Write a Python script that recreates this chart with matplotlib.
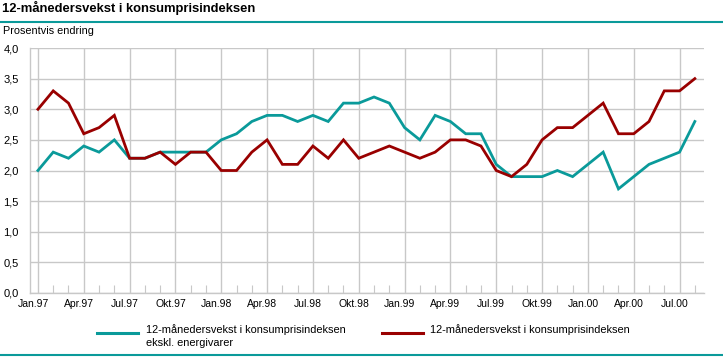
import numpy as np
import matplotlib
matplotlib.use("Agg")
import matplotlib.pyplot as plt
import matplotlib.transforms as mtransforms
from matplotlib.lines import Line2D

# ----------------------------------------
# Data: 12-month growth in CPI, Jan.97 - Aug.00
# ----------------------------------------
months = ["Jan.97", "Feb.97", "Mar.97", "Apr.97", "Mai.97", "Jun.97", "Jul.97", "Aug.97", "Sep.97", "Okt.97", "Nov.97", "Des.97",
          "Jan.98", "Feb.98", "Mar.98", "Apr.98", "Mai.98", "Jun.98", "Jul.98", "Aug.98", "Sep.98", "Okt.98", "Nov.98", "Des.98",
          "Jan.99", "Feb.99", "Mar.99", "Apr.99", "Mai.99", "Jun.99", "Jul.99", "Aug.99", "Sep.99", "Okt.99", "Nov.99", "Des.99",
          "Jan.00", "Feb.00", "Mar.00", "Apr.00", "Mai.00", "Jun.00", "Jul.00", "Aug.00"]

kpi_ex_energy = [2.0, 2.3, 2.2, 2.4, 2.3, 2.5, 2.2, 2.2, 2.3, 2.3, 2.3, 2.3,
                 2.5, 2.6, 2.8, 2.9, 2.9, 2.8, 2.9, 2.8, 3.1, 3.1, 3.2, 3.1,
                 2.7, 2.5, 2.9, 2.8, 2.6, 2.6, 2.1, 1.9, 1.9, 1.9, 2.0, 1.9,
                 2.1, 2.3, 1.7, 1.9, 2.1, 2.2, 2.3, 2.8]

kpi_total = [3.0, 3.3, 3.1, 2.6, 2.7, 2.9, 2.2, 2.2, 2.3, 2.1, 2.3, 2.3,
             2.0, 2.0, 2.3, 2.5, 2.1, 2.1, 2.4, 2.2, 2.5, 2.2, 2.3, 2.4,
             2.3, 2.2, 2.3, 2.5, 2.5, 2.4, 2.0, 1.9, 2.1, 2.5, 2.7, 2.7,
             2.9, 3.1, 2.6, 2.6, 2.8, 3.3, 3.3, 3.5]

y_ticks = [0.0, 0.5, 1.0, 1.5, 2.0, 2.5, 3.0, 3.5, 4.0]

label_ex = "12-månedersvekst i konsumprisindeksen\nekskl. energivarer"
label_tot = "12-månedersvekst i konsumprisindeksen"

# ----------------------------------------
# Styling
# ----------------------------------------
teal = "#0a9a9a"
red = "#990000"
grid_col = "#c8c8c8"
plt.rcParams['font.family'] = ['Liberation Sans', 'DejaVu Sans']

W, H = 723, 357
fig = plt.figure(figsize=(W / 100, H / 100), dpi=100)

def px_box(left, top, right, bottom):
    return [left / W, 1 - bottom / H, (right - left) / W, (bottom - top) / H]

ax = fig.add_axes(px_box(30, 48, 704, 293))

x = np.arange(len(months))
ax.plot(x, kpi_ex_energy, color=teal, linewidth=2.0, solid_joinstyle='miter')
ax.plot(x, kpi_total, color=red, linewidth=2.0, solid_joinstyle='miter')

ax.set_xlim(-0.52, 43.6)
ax.set_ylim(0, 4.0)

# quarterly gridlines + labels, monthly minor ticks
quarter_idx = x[::3]
ax.set_xticks(quarter_idx)
ax.set_xticklabels([months[i] for i in quarter_idx])
ax.set_xticks(x, minor=True)
ax.tick_params(axis='x', which='major', length=0, pad=4, labelsize=7.5, colors='black')
ax.tick_params(axis='x', which='minor', direction='in', length=6, width=0.8, color=grid_col)
offset = mtransforms.ScaledTranslation(-5 / 100, 0, fig.dpi_scale_trans)
for lbl in ax.get_xticklabels():
    lbl.set_transform(lbl.get_transform() + offset)

ax.set_yticks(y_ticks)
ax.set_yticklabels([f"{v:.1f}".replace(".", ",") for v in y_ticks])
ax.tick_params(axis='y', length=0, pad=8, labelsize=8)

ax.grid(True, which='major', color=grid_col, linewidth=1.0)
ax.set_axisbelow(True)

for side in ['top', 'right']:
    ax.spines[side].set_visible(False)
for side in ['left', 'bottom']:
    ax.spines[side].set_color(grid_col)
    ax.spines[side].set_linewidth(1.0)

# ----------------------------------------
# Title, subtitle, rules
# ----------------------------------------
fig.text(2 / W, 1 - 8 / H, "12-månedersvekst i konsumprisindeksen", fontsize=9.4,
         fontweight='bold', va='center', ha='left')
fig.add_artist(Line2D([0, 1], [1 - 21.5 / H, 1 - 21.5 / H], color=teal, linewidth=1.5))
fig.text(3 / W, 1 - 31 / H, "Prosentvis endring", fontsize=7.8, va='center', ha='left')
fig.add_artist(Line2D([0, 1], [1 - 354.5 / H, 1 - 354.5 / H], color=teal, linewidth=1.5))

# ----------------------------------------
# Legend (manual placement)
# ----------------------------------------
ly = 1 - 333 / H
fig.add_artist(Line2D([97 / W, 138 / W], [ly, ly], color=teal, linewidth=2.2))
fig.text(146 / W, 1 - 324 / H, label_ex, fontsize=7.9, va='top', ha='left', linespacing=1.45)
fig.add_artist(Line2D([382 / W, 423 / W], [ly, ly], color=red, linewidth=2.2))
fig.text(430 / W, 1 - 324 / H, label_tot, fontsize=7.9, va='top', ha='left')

fig.savefig("out.png", dpi=100)
